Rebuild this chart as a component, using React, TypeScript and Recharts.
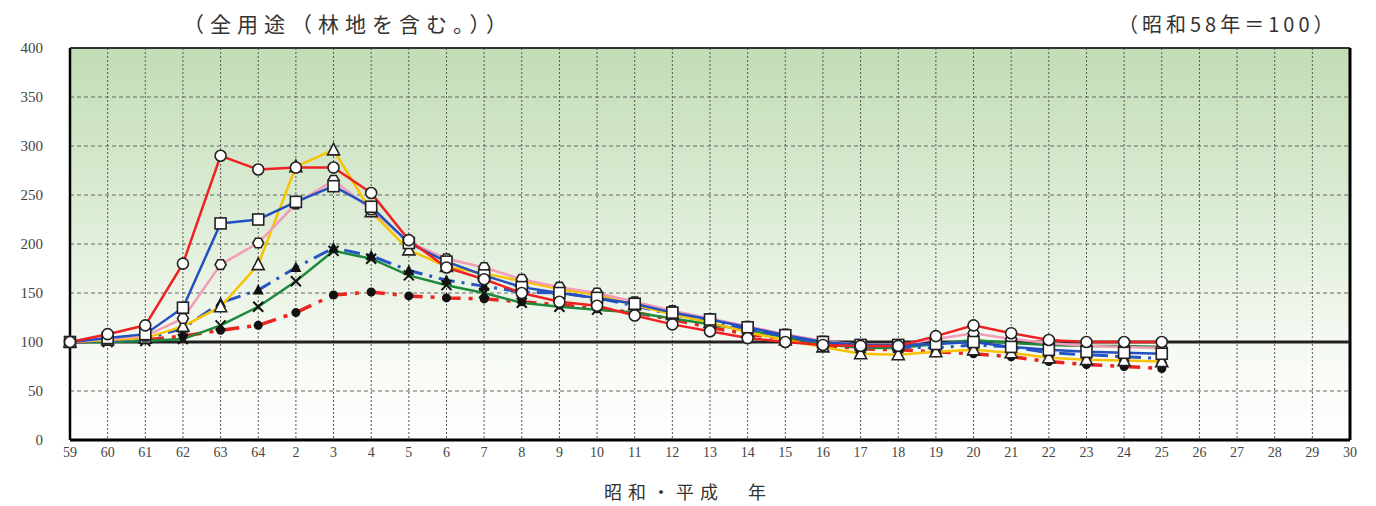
import React from 'react';
import {
  LineChart,
  Line,
  XAxis,
  YAxis,
  CartesianGrid,
  ReferenceLine,
} from 'recharts';

// 昭和59〜64年、平成2〜30年
const years = [
  '59', '60', '61', '62', '63', '64',
  '2', '3', '4', '5', '6', '7', '8', '9', '10', '11', '12', '13', '14', '15',
  '16', '17', '18', '19', '20', '21', '22', '23', '24', '25',
  '26', '27', '28', '29', '30',
];

const yTicks = [0, 50, 100, 150, 200, 250, 300, 350, 400];

// 各系列（平成25年まで）
const redCircle = [100, 108, 117, 180, 290, 276, 278, 278, 252, 204, 176, 164, 150, 141, 137, 127, 118, 111, 104, 100, 97, 96, 96, 106, 117, 109, 102, 100, 100, 100];
const blueSquare = [100, 104, 108, 135, 221, 225, 243, 259, 238, 201, 182, 168, 156, 150, 145, 139, 130, 123, 115, 107, 100, 97, 97, 98, 100, 95, 92, 90, 89, 88];
const pinkHex = [100, 103, 106, 124, 179, 201, 241, 265, 235, 202, 185, 176, 164, 156, 150, 141, 132, 124, 116, 108, 101, 97, 97, 103, 109, 103, 99, 96, 95, 94];
const yellowTri = [100, 102, 104, 116, 136, 179, 279, 296, 233, 194, 177, 170, 162, 154, 148, 138, 128, 120, 110, 102, 95, 88, 87, 90, 92, 89, 84, 82, 81, 80];
const blueDash = [100, 101, 103, 114, 140, 153, 176, 196, 188, 173, 163, 157, 151, 150, 145, 137, 128, 121, 113, 106, 99, 96, 95, 94, 97, 95, 89, 87, 85, 83];
const greenX = [100, 100, 101, 103, 117, 136, 162, 193, 185, 168, 158, 150, 140, 136, 133, 130, 124, 118, 112, 105, 98, 94, 94, 98, 102, 99, 97, 96, 96, 95];
const redDot = [100, 101, 102, 106, 112, 117, 130, 148, 151, 147, 145, 144, 141, 138, 134, 130, 123, 115, 108, 103, 97, 93, 92, 90, 88, 85, 80, 77, 75, 73];

const data = years.map((y, i) => ({
  year: y,
  a: redCircle[i] ?? null,
  b: blueSquare[i] ?? null,
  c: pinkHex[i] ?? null,
  d: yellowTri[i] ?? null,
  e: blueDash[i] ?? null,
  f: greenX[i] ?? null,
  g: redDot[i] ?? null,
}));

const serif = '"Liberation Serif", "DejaVu Serif", serif';
const jp = '"Noto Sans CJK JP", sans-serif';

// マーカー
const marker = (kind: string) => (props: any) => {
  const { cx, cy, index, value } = props;
  const key = `m-${kind}-${index}`;
  if (cx == null || cy == null || value == null) return <g key={key} />;
  const s = '#222';
  switch (kind) {
    case 'circle':
      return <circle key={key} cx={cx} cy={cy} r={5.5} fill="#fff" stroke={s} strokeWidth={1.6} />;
    case 'square':
      return <rect key={key} x={cx - 5.5} y={cy - 5.5} width={11} height={11} fill="#fff" stroke={s} strokeWidth={1.6} />;
    case 'hex': {
      const r = 5.5;
      const pts = [0, 1, 2, 3, 4, 5]
        .map((k) => {
          const t = (Math.PI / 3) * k;
          return `${cx + r * Math.cos(t)},${cy + r * Math.sin(t)}`;
        })
        .join(' ');
      return <polygon key={key} points={pts} fill="#fff" stroke={s} strokeWidth={1.6} />;
    }
    case 'tri':
      return (
        <polygon
          key={key}
          points={`${cx},${cy - 6.5} ${cx + 6},${cy + 5} ${cx - 6},${cy + 5}`}
          fill="#fff"
          stroke={s}
          strokeWidth={1.6}
        />
      );
    case 'triFill':
      return (
        <polygon
          key={key}
          points={`${cx},${cy - 6} ${cx + 5.5},${cy + 4.5} ${cx - 5.5},${cy + 4.5}`}
          fill="#111"
        />
      );
    case 'x':
      return (
        <g key={key} stroke="#111" strokeWidth={2}>
          <line x1={cx - 5} y1={cy - 5} x2={cx + 5} y2={cy + 5} />
          <line x1={cx - 5} y1={cy + 5} x2={cx + 5} y2={cy - 5} />
        </g>
      );
    default:
      return <circle key={key} cx={cx} cy={cy} r={4.5} fill="#111" />;
  }
};

export default function App() {
  return (
    <div style={{ position: 'absolute', left: 0, top: 0, width: 1376, height: 506, background: '#fff' }}>
      <div style={{ position: 'absolute', left: 183, top: 8, fontFamily: jp, fontSize: 21, letterSpacing: 6, color: '#333', whiteSpace: 'nowrap' }}>
        （全用途（林地を含む。））
      </div>
      <div style={{ position: 'absolute', left: 1118, top: 9, fontFamily: jp, fontSize: 20, letterSpacing: 4, color: '#333', whiteSpace: 'nowrap' }}>
        （昭和58年＝100）
      </div>
      <div style={{ position: 'absolute', left: 604, top: 478, fontFamily: jp, fontSize: 18, letterSpacing: 6, color: '#333', whiteSpace: 'nowrap' }}>
        昭和・平成　年
      </div>
      <LineChart width={1376} height={506} data={data} margin={{ top: 48, right: 26, bottom: 36, left: 0 }}>
        <defs>
          <linearGradient id="bg" x1="0" y1="0" x2="0" y2="1">
            <stop offset="0%" stopColor="#c2ddb5" />
            <stop offset="45%" stopColor="#deedd7" />
            <stop offset="75%" stopColor="#f5f9f2" />
            <stop offset="100%" stopColor="#ffffff" />
          </linearGradient>
        </defs>
        <CartesianGrid horizontal={false} stroke="#555" strokeDasharray="2 2" fill="url(#bg)" />
        <CartesianGrid vertical={false} stroke="#666" strokeDasharray="4 3" />
        <XAxis
          dataKey="year"
          interval={0}
          tickLine={false}
          tickSize={0}
          tickMargin={7}
          height={30}
          axisLine={{ stroke: '#000', strokeWidth: 3 }}
          tick={{ fill: '#444', fontSize: 14, fontFamily: serif }}
        />
        <YAxis
          type="number"
          domain={[0, 400]}
          ticks={yTicks}
          width={70}
          tickLine={false}
          tickSize={0}
          tickMargin={27}
          axisLine={{ stroke: '#000', strokeWidth: 2.5 }}
          tick={{ fill: '#444', fontSize: 15, fontFamily: serif }}
        />
        <ReferenceLine y={400} stroke="#333" strokeWidth={2} />
        <ReferenceLine x="30" stroke="#000" strokeWidth={3} />
        <ReferenceLine y={100} stroke="#222" strokeWidth={3} />
        <Line dataKey="g" stroke="#e8251f" strokeWidth={3.5} strokeDasharray="18 8 4 8" dot={marker('dot')} isAnimationActive={false} />
        <Line dataKey="f" stroke="#1d8a3c" strokeWidth={2.5} dot={marker('x')} isAnimationActive={false} />
        <Line dataKey="e" stroke="#2656c4" strokeWidth={3} strokeDasharray="16 7 3 7" dot={marker('triFill')} isAnimationActive={false} />
        <Line dataKey="d" stroke="#f7c300" strokeWidth={2.5} dot={marker('tri')} isAnimationActive={false} />
        <Line dataKey="c" stroke="#f29cb8" strokeWidth={2.5} dot={marker('hex')} isAnimationActive={false} />
        <Line dataKey="b" stroke="#2350c0" strokeWidth={2.5} dot={marker('square')} isAnimationActive={false} />
        <Line dataKey="a" stroke="#ee2222" strokeWidth={2.5} dot={marker('circle')} isAnimationActive={false} />
      </LineChart>
    </div>
  );
}
